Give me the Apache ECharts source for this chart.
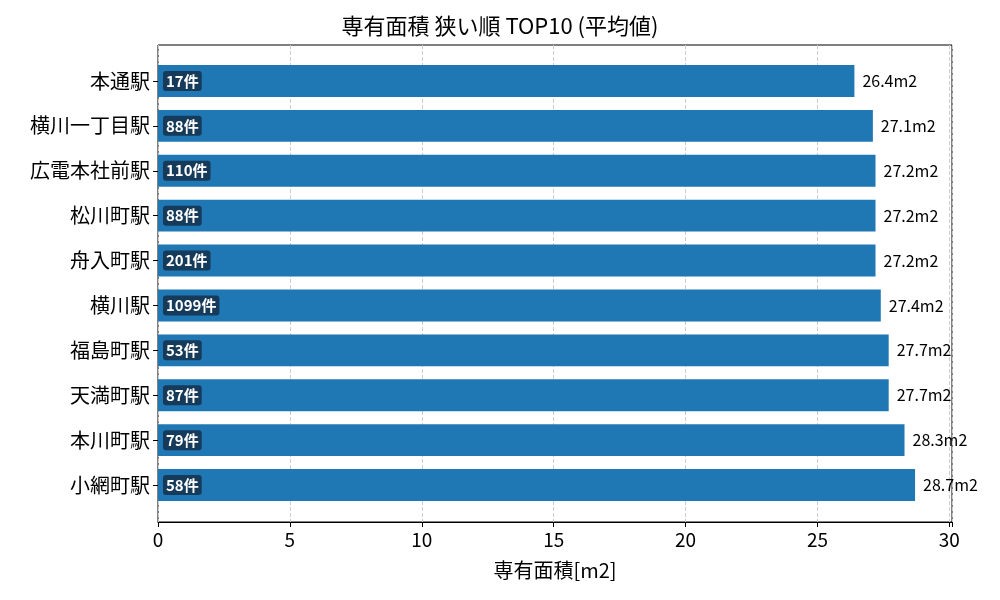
<!DOCTYPE html>
<html><head><meta charset="utf-8">
<script src="https://cdn.jsdelivr.net/npm/echarts@6/dist/echarts.min.js"></script>
<style>html,body{margin:0;padding:0}#c{width:1000px;height:600px}</style>
</head><body><div id="c"></div>
<script>
const categories = ['本通駅','横川一丁目駅','広電本社前駅','松川町駅','舟入町駅','横川駅','福島町駅','天満町駅','本川町駅','小網町駅'];
const values = [26.4,27.1,27.2,27.2,27.2,27.4,27.7,27.7,28.3,28.7];
const counts = [17,88,110,88,201,1099,53,87,79,58];
const xTicks = [0,5,10,15,20,25,30];
const F = 'Noto Sans CJK JP';
const chart = echarts.init(document.getElementById('c'));
chart.setOption({
  animation:false,
  textStyle:{fontFamily:F},
  title:{text:'専有面積 狭い順 TOP10 (平均値)',left:'center',top:10,textStyle:{fontFamily:F,fontSize:22,fontWeight:'normal',color:'#000'}},
  grid:[
    {left:158,right:48,top:45,bottom:78,show:true,borderColor:'#000',borderWidth:1},
    {left:158,right:48,top:58.5,bottom:92.5}
  ],
  xAxis:[
    {gridIndex:0,type:'value',min:0,max:30.1,interval:5,name:'専有面積[m2]',nameLocation:'middle',nameGap:38,
    nameTextStyle:{fontSize:20,color:'#000',fontFamily:F},
    axisLine:{show:true,lineStyle:{color:'#000'}},axisTick:{show:true,length:5,lineStyle:{color:'#000'}},
    axisLabel:{fontSize:19,color:'#000',fontFamily:F,formatter:v=>xTicks.includes(v)?String(v):''},
    splitLine:{show:true,lineStyle:{type:'dashed',color:'#ccc'}}},
    {gridIndex:1,type:'value',min:0,max:30.1,show:false}
  ],
  yAxis:[
    {gridIndex:0,type:'category',data:categories,show:false},
    {gridIndex:1,type:'category',data:categories,inverse:true,
    axisLine:{show:false},axisTick:{show:true,alignWithLabel:true,length:5,lineStyle:{color:'#000'}},
    axisLabel:{fontSize:20,color:'#000',fontFamily:F,margin:8}}
  ],
  series:[
    {type:'bar',xAxisIndex:1,yAxisIndex:1,data:values,barCategoryGap:'29%',itemStyle:{color:'#1f77b4'},
     label:{show:true,position:'right',distance:8,formatter:p=>p.value.toFixed(1)+'m2',fontSize:16,color:'#000',fontFamily:F}},
    {type:'bar',xAxisIndex:1,yAxisIndex:1,data:values,barGap:'-100%',barCategoryGap:'29%',itemStyle:{color:'rgba(0,0,0,0)'},
     label:{show:true,position:'insideLeft',distance:5,formatter:p=>counts[p.dataIndex]+'件',fontSize:15,fontWeight:'bold',color:'#fff',
       backgroundColor:'#163a5a',borderRadius:3,padding:[3,3,2,3],fontFamily:F}}
  ]
});
</script></body></html>
